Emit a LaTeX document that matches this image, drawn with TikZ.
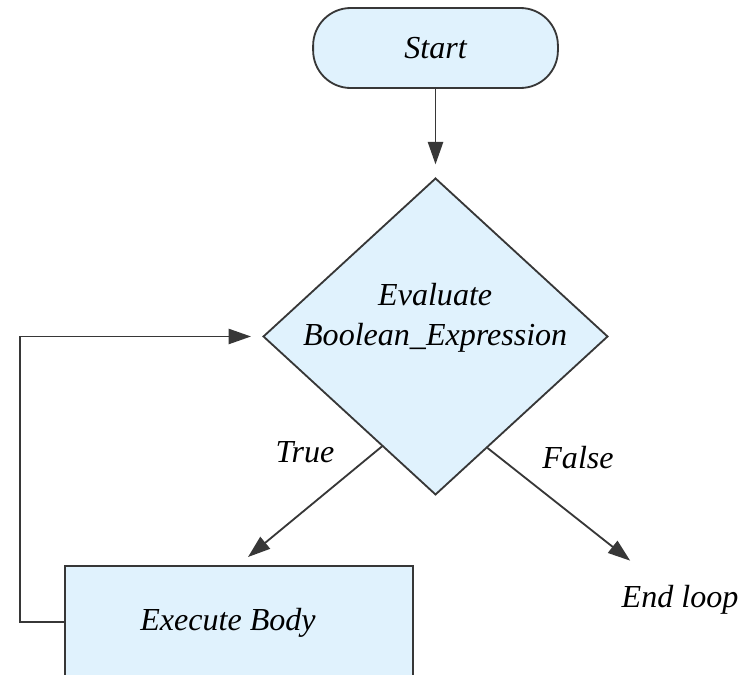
\documentclass[tikz,border=0pt]{standalone}
\usepackage{fontspec}
\setmainfont{Liberation Serif}
\usepackage{tikz}
\usetikzlibrary{arrows.meta,positioning,shapes.geometric,calc}
\usepackage{xcolor}
\definecolor{flowblue}{RGB}{224,242,253}
\definecolor{flowline}{RGB}{55,55,55}

\begin{document}
\begin{tikzpicture}[
    every node/.style={font=\fontsize{11.4}{14.2}\selectfont\itshape},
    terminal/.style={rectangle,rounded corners=0.47cm,draw=flowline,line width=0.65pt,fill=flowblue,minimum width=3.06cm,minimum height=1cm},
    decision/.style={diamond,draw=flowline,line width=0.65pt,fill=flowblue,inner sep=0pt,minimum width=4.31cm,minimum height=3.96cm},
    process/.style={rectangle,draw=flowline,line width=0.65pt,fill=flowblue,minimum width=4.35cm,minimum height=1.4cm},
    flow/.style={-{Triangle[length=2.8mm,width=1.9mm]},flowline,line width=0.65pt}
]
\useasboundingbox (0,0) rectangle (9.4375,-8.425);
\clip (0,0) rectangle (9.4375,-8.425);

% Boxes
\node[terminal] (start) at (5.444,-0.6) {Start};
\node[decision] (eval) at (5.444,-4.206) {};
\node[align=center] (evaltext) at (5.44,-3.975) {Evaluate\\Boolean\_Expression};
\node[process] (body) at (2.9875,-7.775) {};
\node (bodytext) at (2.85,-7.79) {Execute Body};
\node (endloop) at (8.5,-7.5) {End loop};

% Branch labels
\node (truelbl) at (3.8125,-5.65) {True};
\node (falselbl) at (7.225,-5.725) {False};
\coordinate (truetip) at (3.1,-6.9625);

% Connectors
\draw[flow,shorten >=0.16cm] (start) -- (eval);
\draw[flow] (eval.244) -- (truetip);
\draw[flow,shorten >=0.3cm] (eval.295.5) -- (endloop);
\draw[flow,shorten >=0.14cm] (body.west) -- ++(-0.55,0) |- (eval.west);
\end{tikzpicture}
\end{document}
